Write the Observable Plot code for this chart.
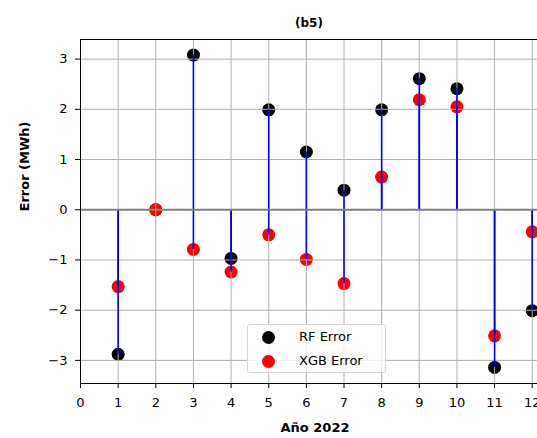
<!DOCTYPE html>
<html><head><meta charset="utf-8">
<script src="https://cdn.jsdelivr.net/npm/d3@7"></script>
<script src="https://cdn.jsdelivr.net/npm/@observablehq/plot@0.6"></script>
<style>
body{margin:0;background:#fff;}
#wrap{position:relative;width:537px;height:438px;overflow:hidden;font-family:"DejaVu Sans",sans-serif;}
#legend{position:absolute;left:247px;top:324px;width:137px;height:47px;border:1px solid #d6d6d6;border-radius:3px;background:rgba(255,255,255,0.8);font-size:13px;}
#legend .row{position:absolute;left:0;height:20px;}
#legend .sw{position:absolute;left:14px;width:13px;height:13px;border-radius:50%;}
#legend .lb{position:absolute;left:51px;white-space:nowrap;}
</style>
</head><body><div id="wrap"></div>
<script>
const months = [1, 2, 3, 4, 5, 6, 7, 8, 9, 10, 11, 12];
const rfError = [-2.88, 0.0, 3.08, -0.97, 1.99, 1.15, 0.39, 1.99, 2.61, 2.41, -3.14, -2.01];
const xgbError = [-1.53, 0.0, -0.79, -1.24, -0.5, -0.99, -1.47, 0.65, 2.19, 2.05, -2.51, -0.44];
const xTicks = [0, 1, 2, 3, 4, 5, 6, 7, 8, 9, 10, 11, 12];
const yTicks = [-3, -2, -1, 0, 1, 2, 3];
const seriesNames = ["RF Error", "XGB Error"];
const seriesColors = ["black", "red"];

const data = months.map((m, i) => ({month: m, rf: rfError[i], xgb: xgbError[i]}));
const fmtY = d => d < 0 ? "\u2212" + Math.abs(d) : String(d);

const chart = Plot.plot({
  width: 537, height: 438,
  marginLeft: 80, marginRight: 0, marginTop: 39, marginBottom: 55,
  style: {fontFamily: "DejaVu Sans", fontSize: "13px", color: "#000", background: "#fff", overflow: "visible"},
  x: {domain: [0, 12.14]},
  y: {domain: [-3.46, 3.39]},
  marks: [
    Plot.dot(data, {x: "month", y: "rf", r: 6.5, fill: seriesColors[0], stroke: null}),
    Plot.dot(data, {x: "month", y: "xgb", r: 6.5, fill: seriesColors[1], stroke: null}),
    Plot.gridX(xTicks, {stroke: "#b0b0b0", strokeOpacity: 1, strokeWidth: 1}),
    Plot.gridY(yTicks, {stroke: "#b0b0b0", strokeOpacity: 1, strokeWidth: 1}),
    Plot.ruleX(data, {x: "month", y1: 0, y2: "rf", stroke: "blue", strokeWidth: 1.6}),
    Plot.ruleX(data, {x: "month", y1: 0, y2: "xgb", stroke: "blue", strokeWidth: 1.6}),
    Plot.ruleY([0], {stroke: "#808080", strokeWidth: 2}),
    Plot.frame({anchor: "top", stroke: "#000", strokeWidth: 1}),
    Plot.frame({anchor: "left", stroke: "#000", strokeWidth: 1}),
    Plot.frame({anchor: "bottom", stroke: "#000", strokeWidth: 1}),
    Plot.axisX(xTicks, {tickSize: 5, tickPadding: 9, tickFormat: d => String(d), label: null, fontSize: 13}),
    Plot.axisY(yTicks, {tickSize: 5, tickPadding: 8, tickFormat: fmtY, label: null, fontSize: 13}),
    Plot.text(["(b5)"], {frameAnchor: "top", dy: -21, fontWeight: "bold", fontSize: 12}),
    Plot.text(["Año 2022"], {frameAnchor: "bottom", dy: 48, dx: 6, fontWeight: "bold", fontSize: 13}),
    Plot.text(["Error (MWh)"], {frameAnchor: "left", dx: -56, rotate: -90, fontWeight: "bold", fontSize: 13})
  ]
});
const wrap = document.getElementById("wrap");
wrap.appendChild(chart);

const legend = document.createElement("div");
legend.id = "legend";
seriesNames.forEach((name, i) => {
  const row = document.createElement("div");
  row.className = "row";
  row.style.top = (4 + i * 24) + "px";
  const sw = document.createElement("div");
  sw.className = "sw";
  sw.style.background = seriesColors[i];
  sw.style.top = "2px";
  const lb = document.createElement("div");
  lb.className = "lb";
  lb.textContent = name;
  lb.style.top = "0px";
  row.appendChild(sw); row.appendChild(lb);
  legend.appendChild(row);
});
wrap.appendChild(legend);
</script>
</body></html>
